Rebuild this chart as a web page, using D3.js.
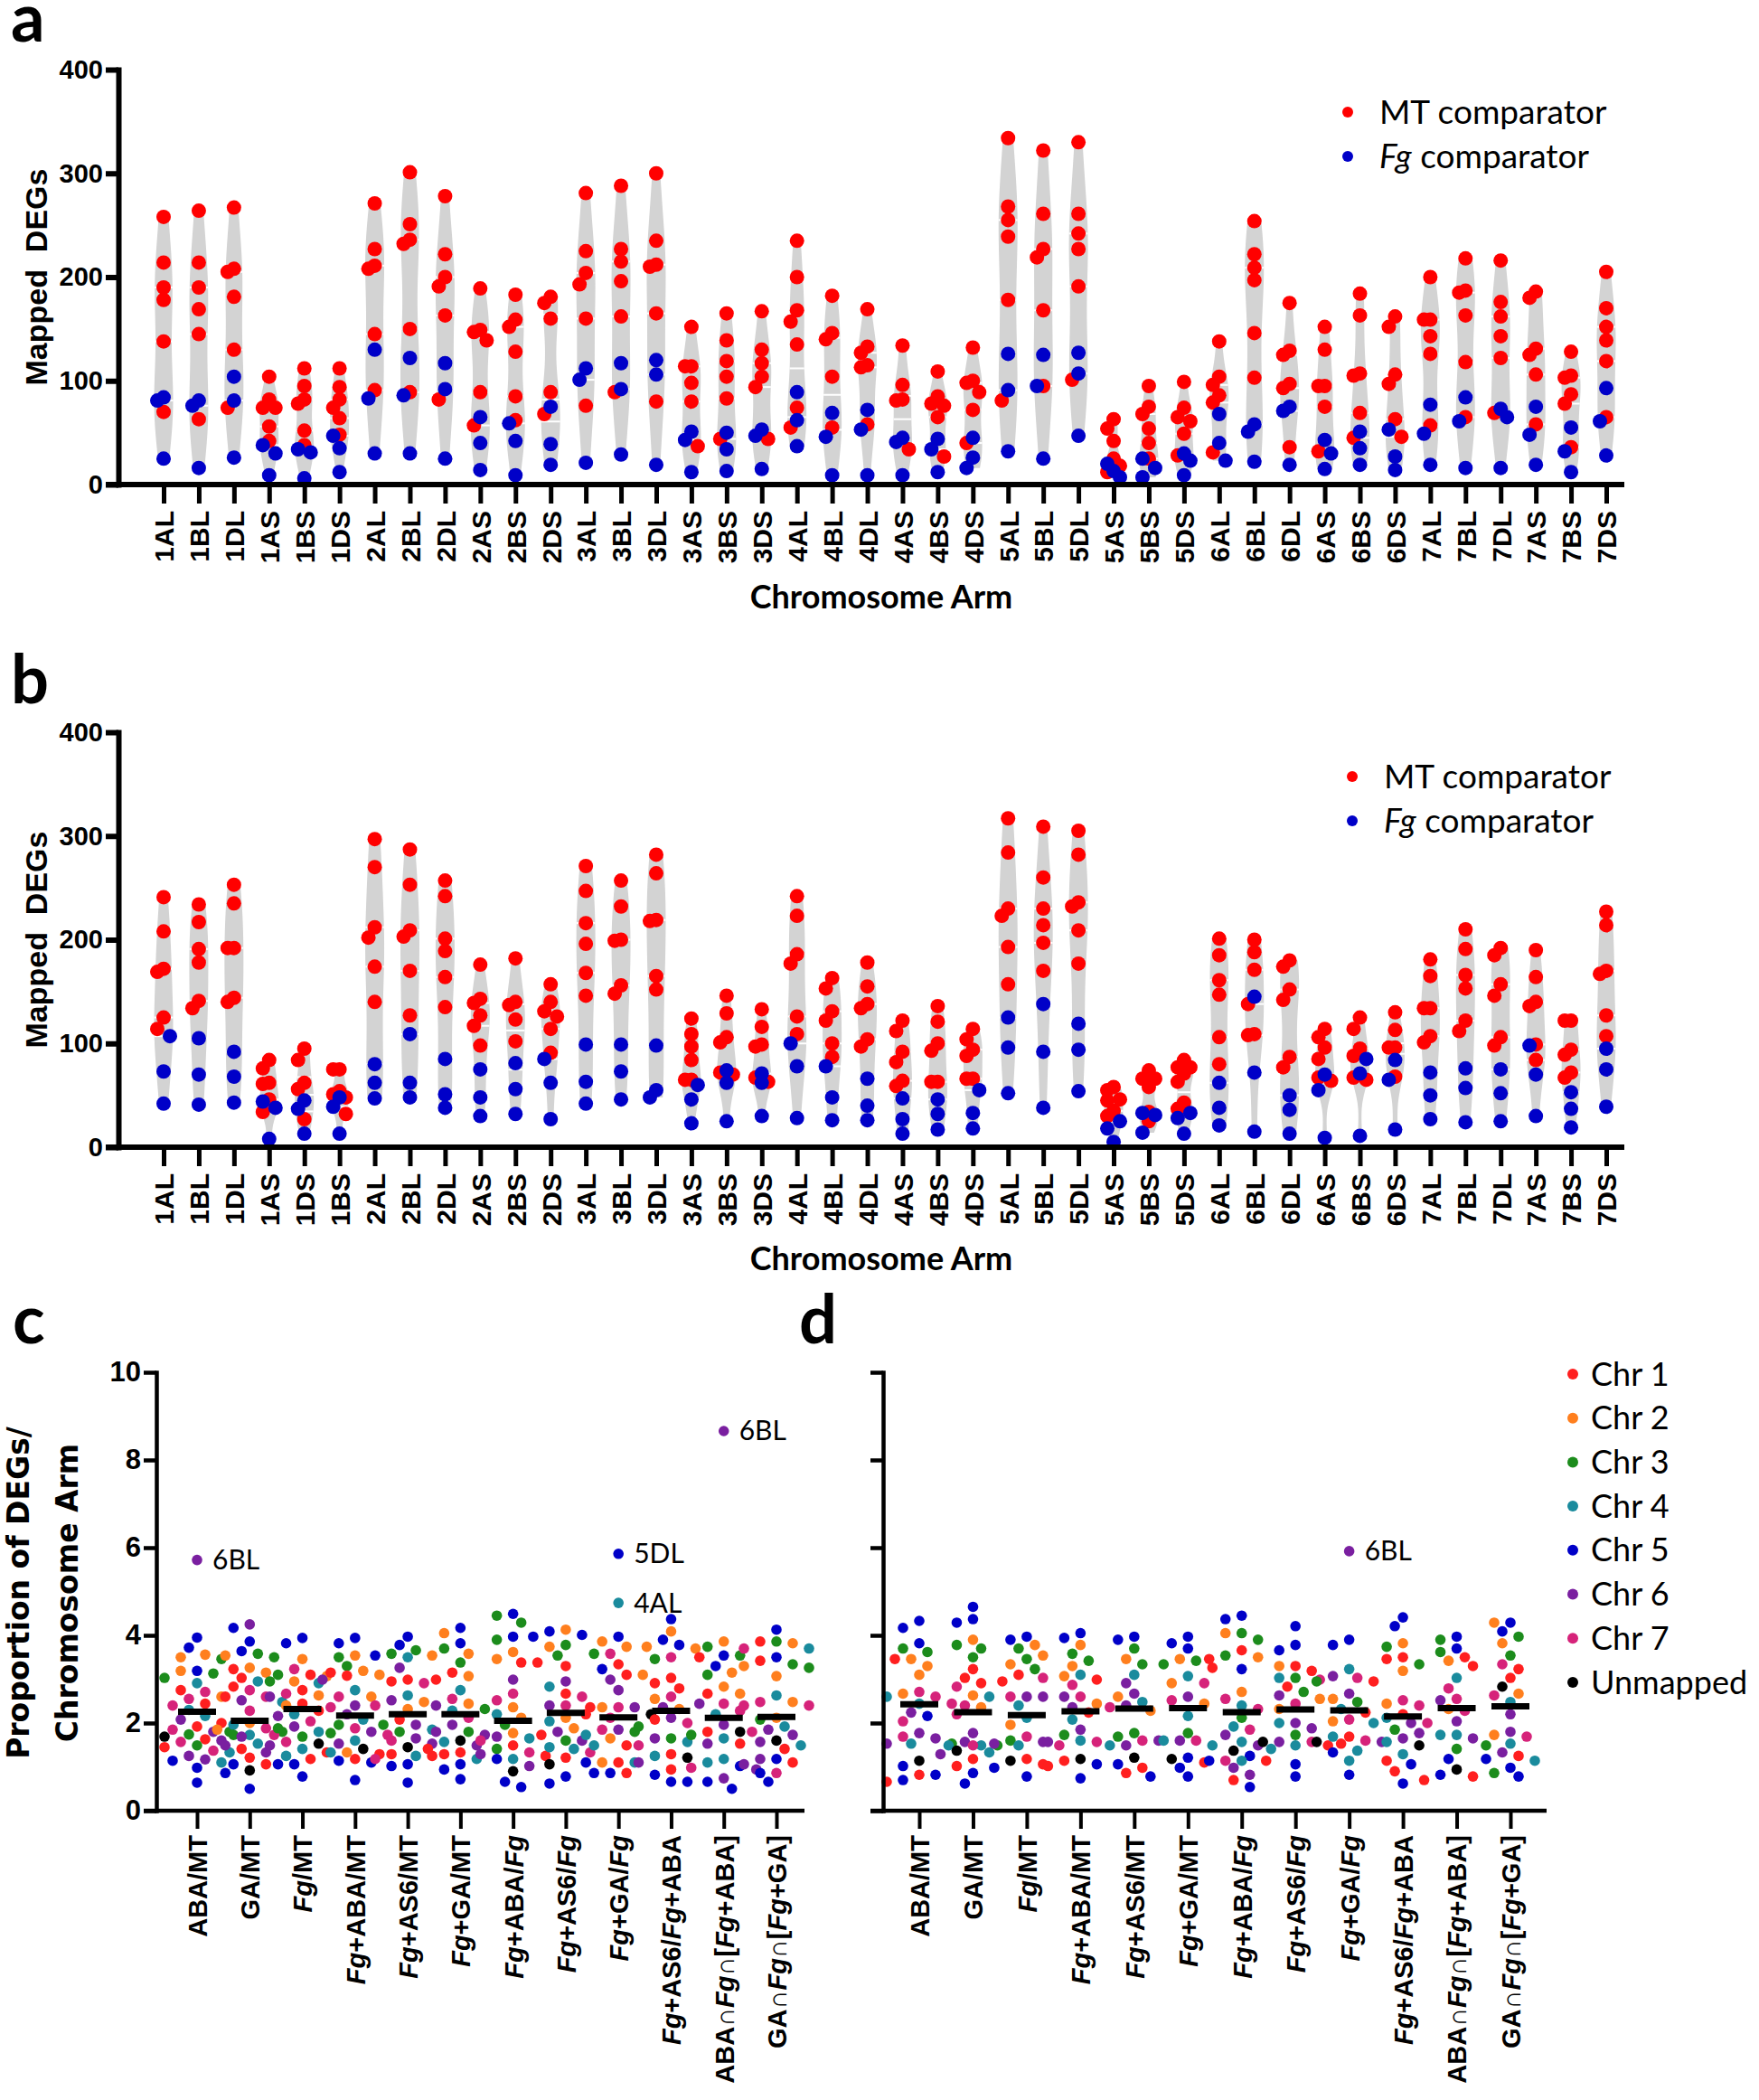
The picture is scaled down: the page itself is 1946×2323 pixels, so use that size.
<!DOCTYPE html>
<html><head><meta charset="utf-8">
<script src="https://cdn.jsdelivr.net/npm/d3@7/dist/d3.min.js"></script>
<style>html,body{margin:0;padding:0;background:#fff}svg{display:block}</style>
</head><body>
<svg id="fig" width="1946" height="2323" xmlns="http://www.w3.org/2000/svg"></svg>
<script>
// ---------------- DATA ----------------
const armsA = ["1AL","1BL","1DL","1AS","1BS","1DS","2AL","2BL","2DL","2AS","2BS","2DS","3AL","3BL","3DL","3AS","3BS","3DS","4AL","4BL","4DL","4AS","4BS","4DS","5AL","5BL","5DL","5AS","5BS","5DS","6AL","6BL","6DL","6AS","6BS","6DS","7AL","7BL","7DL","7AS","7BS","7DS"];
const armsB = ["1AL","1BL","1DL","1AS","1DS","1BS","2AL","2BL","2DL","2AS","2BS","2DS","3AL","3BL","3DL","3AS","3BS","3DS","4AL","4BL","4DL","4AS","4BS","4DS","5AL","5BL","5DL","5AS","5BS","5DS","6AL","6BL","6DL","6AS","6BS","6DS","7AL","7BL","7DL","7AS","7BS","7DS"];
const degTicks = [0,100,200,300,400];

// panel a: mapped DEGs, MT comparator (red) and Fg comparator (blue)
const mtA = [[258,214,190,178,138,70],[264,214,190,169,145,63],[267,208,205,181,130,74],[104,82,74,74,56,42],[112,95,82,78,52,38],[112,94,82,74,64,48],
[271,227,211,208,145,91],[301,251,236,232,150,89],[278,222,200,191,163,82],[189,149,147,139,89,57],[183,159,152,128,85,62],[181,175,160,89,68],
[281,225,204,193,160,76],[288,227,215,196,162,89],[300,235,212,210,165,80],[152,114,114,98,80,37],[165,139,119,104,83,44],[167,130,117,104,94,44],
[235,200,168,157,135,74,55],[182,146,140,104,55],[169,133,127,115,113,58],[134,96,82,81,34],[109,85,78,76,65,27],[132,100,98,89,72,40],
[334,268,255,239,178,81],[322,261,227,219,168,95],[330,261,242,227,191,101],[63,54,42,25,18,12],[95,75,68,54,40,25],[99,74,65,61,49,28],
[138,104,96,86,79,31],[254,222,209,197,146,103],[175,129,125,97,93,36],[152,130,95,95,75,32],[184,163,107,105,69,45],[162,152,106,97,63,46],
[200,159,159,143,126,57],[218,187,185,163,118,65],[216,176,162,143,122,69],[186,180,131,125,106,58],[128,105,103,87,78,36],[205,170,152,139,119,65]];
const fgA = [[84,81,25],[81,76,16],[104,81,26],[38,30,9],[34,31,6],[47,35,12],[130,83,30],[122,86,30],[117,92,25],[65,40,14],[59,42,9],[75,39,19],
[112,101,21],[117,92,29],[120,106,19],[51,43,12],[50,34,13],[53,47,15],[89,62,37],[69,46,9],[72,53,9],[45,41,9],[44,34,12],[45,26,16],
[126,91,32],[125,95,25],[127,107,47],[20,13,7],[25,16,7],[30,23,9],[68,40,23],[58,51,22],[75,71,19],[43,30,15],[51,35,19],[53,27,14],
[77,49,19],[84,61,16],[73,65,16],[75,48,19],[55,32,12],[93,61,28]];

// panel b
const mtB = [[241,208,172,169,125,114],[234,217,191,178,141,134],[253,235,192,192,144,140],[84,76,62,61,46,34],[95,84,62,56,27],[75,75,54,51,48,32],
[297,270,212,202,174,140],[287,253,209,203,170,127],[257,242,201,189,164,135],[176,143,139,127,117,98],[182,140,137,123,102],[157,140,131,126,114,91],
[271,247,216,196,168,146],[257,232,200,199,156,148],[282,264,219,218,165,152],[124,109,97,84,65,65],[146,129,106,101,72,70],[133,116,99,97,67,63],
[242,223,186,177,126,109],[163,153,131,122,100,87],[178,155,138,134,104,97],[122,112,92,82,64,59],[136,121,100,93,63,63],[114,104,94,88,66,66],
[317,284,230,223,193,157],[309,260,230,214,197,170],[305,282,236,232,209,177],[58,55,46,45,35,30],[74,66,66,58,34,25],[84,77,77,71,63,43,37],
[201,185,161,147,106,80],[200,188,171,138,109,108],[180,174,152,142,87,77],[114,106,96,85,67,64],[125,114,95,88,67,65],[130,113,96,96,68],
[181,165,134,134,107,101],[210,191,166,153,122,112],[192,185,157,146,106,98],[190,164,140,136,99,84],[122,122,94,89,72,67],[227,214,170,167,127,107]];
const fgB = [[107,73,42],[105,70,41],[92,68,43],[44,38,8],[45,37,13],[48,39,13],[80,62,47],[109,62,48],[85,51,38],[75,48,30],[81,56,32],[85,62,27],
[99,63,42],[99,73,46],[98,55,48],[60,46,23],[74,62,25],[71,62,30],[100,78,28],[78,48,26],[66,40,26],[47,27,13],[46,32,17],[55,33,18],
[125,96,52],[138,92,38],[119,94,54],[25,18,5],[33,31,14],[33,28,13],[62,38,21],[145,72,15],[50,36,13],[70,55,9],[85,71,11],[84,65,17],
[72,50,27],[76,57,24],[75,52,25],[98,70,30],[53,37,19],[95,75,39]];

const seriesNames = ["MT comparator", "Fg comparator"];

// panels c, d: proportion of DEGs per chromosome arm  [value, chromosome (0 = unmapped)]
const comps = ["ABA/MT","GA/MT","Fg/MT","Fg+ABA/MT","Fg+AS6/MT","Fg+GA/MT","Fg+ABA/Fg","Fg+AS6/Fg","Fg+GA/Fg","Fg+AS6/Fg+ABA","ABA\u2229Fg\u2229[Fg+ABA]","GA\u2229Fg\u2229[Fg+GA]"];
const propTicks = [0,2,4,6,8,10];
const chrNames = ["Chr 1","Chr 2","Chr 3","Chr 4","Chr 5","Chr 6","Chr 7","Unmapped"];

const propC = [
[[3.95,5],[3.72,5],[3.56,2],[3.5,2],[3.46,3],[3.19,5],[3.13,3],[3.19,2],[3.03,3],[2.91,4],[2.75,1],[2.71,7],[2.55,7],[2.6,2],[2.44,1],[2.4,7],[2.3,4],[2.16,4],[2.08,6],[2.0,1],[1.92,1],[1.85,7],[1.8,6],[1.8,3],[1.74,3],[1.69,0],[1.63,1],[1.6,6],[1.57,7],[1.49,3],[1.45,1],[1.37,7],[1.33,4],[1.25,6],[1.17,6],[1.14,5],[1.1,4],[0.98,5],[0.64,5],[5.72,6]],
[[4.25,6],[4.17,5],[3.86,5],[3.64,5],[3.58,3],[3.54,2],[3.5,3],[3.26,2],[3.23,1],[3.15,2],[3.03,1],[2.95,4],[2.83,1],[2.75,7],[2.6,7],[2.6,1],[2.52,6],[2.48,4],[2.28,7],[2.0,2],[1.96,4],[1.88,7],[1.85,2],[1.8,3],[1.73,4],[1.73,3],[1.73,7],[1.69,6],[1.53,4],[1.49,6],[1.41,1],[1.33,6],[1.21,1],[1.06,5],[1.06,1],[0.92,0],[0.86,5],[0.5,5]],
[[3.94,5],[3.82,5],[3.46,2],[3.23,7],[3.1,1],[3.07,2],[3.1,3],[2.95,2],[2.95,3],[2.91,4],[2.75,1],[2.67,7],[2.6,6],[2.63,2],[2.44,1],[2.4,2],[2.28,1],[2.2,4],[2.16,6],[2.04,7],[1.92,6],[1.88,3],[1.8,4],[1.69,3],[1.57,7],[1.53,0],[1.49,6],[1.41,4],[1.33,1],[1.25,4],[1.18,1],[1.06,5],[1.06,5],[0.78,5]],
[[3.94,5],[3.82,5],[3.54,2],[3.5,3],[3.3,3],[3.19,2],[3.15,1],[3.1,2],[3.08,1],[2.99,6],[2.75,4],[2.6,7],[2.6,2],[2.4,6],[2.36,7],[2.2,6],[2.08,4],[1.96,3],[1.88,7],[1.8,6],[1.77,3],[1.73,7],[1.6,4],[1.53,6],[1.41,0],[1.33,2],[1.33,4],[1.29,1],[1.18,1],[1.14,5],[1.1,5],[0.7,5]],
[[3.97,5],[3.78,5],[3.66,3],[3.58,3],[3.54,2],[3.54,5],[3.5,4],[3.26,6],[2.99,1],[2.95,1],[2.91,7],[2.63,4],[2.52,6],[2.48,2],[2.4,7],[2.32,2],[2.08,1],[1.96,6],[1.96,3],[1.85,4],[1.8,3],[1.65,6],[1.6,7],[1.53,6],[1.45,0],[1.29,1],[1.25,4],[1.25,1],[1.18,7],[1.06,5],[1.02,5],[0.64,5]],
[[4.17,5],[4.05,2],[3.82,5],[3.7,3],[3.58,2],[3.38,3],[3.15,1],[3.07,2],[2.99,1],[2.75,4],[2.55,7],[2.44,2],[2.4,6],[2.32,3],[2.28,4],[2.12,7],[1.96,6],[1.8,3],[1.8,6],[1.73,6],[1.6,0],[1.57,4],[1.49,6],[1.41,1],[1.33,1],[1.29,1],[1.18,4],[1.06,5],[0.94,5],[0.72,5]],
[[4.49,5],[4.45,3],[4.29,3],[3.97,5],[3.9,3],[3.62,2],[3.46,2],[3.38,1],[3.38,1],[2.99,6],[2.67,7],[2.52,7],[2.36,2],[2.2,4],[2.12,2],[1.96,3],[1.77,2],[1.69,6],[1.65,4],[1.6,7],[1.49,1],[1.41,3],[1.33,7],[1.29,6],[1.25,1],[1.18,4],[1.18,5],[1.02,6],[0.9,0],[0.66,5],[0.54,5]],
[[4.13,2],[4.09,5],[4.01,5],[3.97,5],[3.78,3],[3.74,2],[3.54,3],[3.3,1],[2.95,6],[2.83,4],[2.67,1],[2.6,7],[2.4,7],[2.4,6],[2.36,1],[2.12,2],[2.04,4],[1.88,2],[1.8,6],[1.73,1],[1.6,3],[1.6,6],[1.45,4],[1.41,4],[1.33,7],[1.21,1],[1.06,0],[0.78,5],[0.62,5]],
[[5.86,5],[4.74,4],[3.97,5],[3.86,2],[3.74,2],[3.58,7],[3.58,3],[3.34,1],[3.23,5],[3.1,1],[3.1,2],[2.99,6],[2.75,6],[2.36,7],[2.36,2],[2.36,6],[2.2,1],[2.2,0],[2.12,7],[1.85,6],[1.85,7],[1.8,3],[1.73,4],[1.65,2],[1.49,1],[1.49,4],[1.1,1],[1.1,2],[1.1,4],[1.1,5],[0.86,5],[0.86,1],[0.86,5]],
[[4.37,5],[4.09,2],[3.9,5],[3.78,5],[3.74,2],[3.7,2],[3.5,7],[3.46,3],[3.03,1],[2.91,1],[2.79,1],[2.6,7],[2.55,2],[2.36,6],[2.32,2],[2.12,6],[2.08,1],[2.0,7],[1.92,3],[1.65,3],[1.65,6],[1.57,4],[1.49,7],[1.29,1],[1.25,4],[1.21,0],[1.1,6],[0.94,1],[0.82,5],[0.66,5],[0.66,5]],
[[8.66,6],[3.86,2],[3.74,3],[3.54,5],[3.54,3],[3.5,1],[3.3,5],[3.15,2],[3.1,3],[2.83,2],[2.67,1],[2.67,2],[2.44,7],[2.44,6],[2.28,7],[2.2,4],[1.96,6],[1.8,1],[1.8,0],[1.73,3],[1.65,4],[1.53,6],[1.53,1],[1.18,4],[1.1,4],[1.02,5],[0.98,7],[0.94,6],[0.74,6],[0.66,5],[0.5,5]],
[[4.13,5],[3.86,3],[3.86,1],[3.82,2],[3.7,7],[3.7,4],[3.5,5],[3.42,1],[3.34,3],[3.3,2],[3.26,3],[3.07,2],[2.63,4],[2.48,7],[2.48,2],[2.4,7],[2.4,7],[2.12,2],[2.08,3],[1.92,4],[1.85,6],[1.8,7],[1.73,6],[1.6,0],[1.57,6],[1.49,4],[1.41,1],[1.18,5],[1.18,6],[1.1,1],[1.06,6],[0.86,7],[0.86,5],[0.66,5]]
];
const medC = [2.26,2.05,2.32,2.17,2.2,2.2,2.05,2.23,2.13,2.28,2.12,2.14];

const propD = [
[[4.33,5],[4.17,5],[3.82,5],[3.7,3],[3.62,3],[3.46,2],[3.46,1],[3.3,2],[3.1,2],[2.71,7],[2.67,2],[2.6,7],[2.6,4],[2.44,4],[2.44,7],[2.24,6],[2.16,5],[2.04,7],[1.77,6],[1.69,7],[1.65,6],[1.53,6],[1.53,3],[1.53,4],[1.14,0],[1.02,5],[0.82,1],[0.82,5],[0.7,5],[0.66,1]],
[[4.65,5],[4.37,5],[4.29,5],[3.9,2],[3.78,3],[3.7,3],[3.5,3],[3.23,1],[3.03,1],[2.91,1],[2.83,7],[2.63,2],[2.6,4],[2.4,7],[2.36,2],[2.2,7],[1.77,6],[1.57,6],[1.49,4],[1.49,4],[1.49,3],[1.49,7],[1.37,0],[1.33,4],[1.29,6],[1.18,1],[1.02,1],[0.86,5],[0.62,5]],
[[3.97,5],[3.9,5],[3.78,2],[3.7,3],[3.54,2],[3.46,3],[3.34,2],[3.23,3],[3.1,1],[3.03,7],[2.95,1],[2.6,6],[2.6,7],[2.6,6],[2.4,4],[2.12,4],[1.96,2],[1.69,7],[1.6,3],[1.57,6],[1.53,6],[1.49,7],[1.49,4],[1.18,1],[1.14,0],[1.06,1],[0.98,5],[0.78,5]],
[[4.05,5],[3.94,5],[3.78,2],[3.58,3],[3.42,3],[3.3,2],[3.1,4],[3.07,2],[2.99,1],[2.87,7],[2.6,7],[2.6,6],[2.44,2],[2.36,6],[2.24,1],[2.08,4],[1.85,6],[1.73,3],[1.6,4],[1.57,7],[1.57,6],[1.18,0],[1.14,1],[1.06,5],[1.02,1],[0.74,5]],
[[3.97,5],[3.9,5],[3.7,3],[3.46,2],[3.34,3],[3.1,4],[2.91,6],[2.67,6],[2.6,2],[2.48,4],[2.4,6],[2.36,7],[2.28,2],[1.77,3],[1.69,3],[1.6,7],[1.6,6],[1.49,6],[1.49,4],[1.21,0],[1.06,5],[0.98,1],[0.86,1],[0.78,5]],
[[3.97,5],[3.82,5],[3.7,5],[3.46,2],[3.42,3],[3.34,3],[3.26,1],[3.07,4],[2.91,2],[2.91,7],[2.6,6],[2.52,7],[2.44,2],[2.16,4],[1.77,3],[1.6,6],[1.6,7],[1.6,4],[1.49,4],[1.21,5],[1.18,0],[1.1,1],[0.98,5],[0.78,5]],
[[4.45,5],[4.37,5],[4.05,3],[4.05,2],[3.9,3],[3.66,1],[3.54,3],[3.5,2],[3.46,1],[3.23,5],[2.71,2],[2.55,7],[2.4,4],[2.32,7],[2.12,3],[1.92,4],[1.85,7],[1.73,6],[1.57,4],[1.49,6],[1.37,0],[1.25,5],[1.14,7],[1.14,1],[1.14,5],[1.14,4],[0.98,6],[0.82,6],[0.7,1],[0.54,5]],
[[4.21,5],[3.78,5],[3.66,5],[3.3,1],[3.3,2],[3.19,1],[3.03,3],[3.03,4],[2.99,7],[2.83,1],[2.71,3],[2.63,6],[2.55,2],[2.44,7],[2.32,2],[2.0,6],[2.0,4],[1.88,6],[1.73,3],[1.57,6],[1.57,7],[1.57,0],[1.49,1],[1.49,4],[1.41,4],[1.06,5],[0.78,5]],
[[5.92,6],[3.9,5],[3.78,5],[3.23,4],[3.07,6],[3.03,7],[2.95,1],[2.95,3],[2.67,6],[2.55,2],[2.48,3],[2.32,4],[2.24,1],[2.08,7],[2.04,2],[2.0,4],[1.69,1],[1.69,4],[1.6,7],[1.57,0],[1.57,6],[1.53,1],[1.37,4],[1.33,5],[1.14,4],[0.82,5]],
[[4.41,5],[4.21,5],[3.82,2],[3.74,3],[3.5,1],[3.46,1],[3.34,3],[3.19,2],[2.52,7],[2.44,2],[2.4,7],[2.2,1],[2.12,4],[2.0,6],[2.0,7],[1.85,3],[1.77,6],[1.65,6],[1.57,4],[1.49,0],[1.29,4],[1.14,1],[1.06,5],[0.9,1],[0.62,5]],
[[3.97,5],[3.9,3],[3.7,5],[3.62,3],[3.5,1],[3.42,2],[3.3,1],[3.03,4],[2.79,7],[2.55,7],[2.52,6],[2.32,2],[2.28,7],[2.04,6],[1.73,4],[1.73,4],[1.65,6],[1.41,3],[1.18,5],[0.94,0],[0.82,5],[0.78,1],[0.7,1]],
[[4.29,5],[4.29,2],[4.09,5],[3.97,3],[3.82,2],[3.54,3],[3.34,7],[3.23,1],[3.03,1],[2.83,0],[2.67,2],[2.63,7],[2.48,4],[2.2,6],[1.8,6],[1.73,2],[1.69,7],[1.53,4],[1.49,3],[1.33,6],[1.25,1],[1.18,5],[1.14,4],[0.98,5],[0.86,3],[0.78,5]]
];
const medD = [2.43,2.25,2.18,2.27,2.33,2.34,2.25,2.31,2.29,2.15,2.34,2.38];

// labelled outliers: [comparison index, value, arm]
const annotC = [[0,5.72,"6BL"],[10,8.66,"6BL"],[8,5.86,"5DL"],[8,4.74,"4AL"]];
const annotD = [[8,5.92,"6BL"]];

// ---------------- STYLE ----------------
const RED = "#ff0000", BLUE = "#0000c8", VIOLIN = "#d3d3d3";
const chrColors = ["#000000","#ff1f1f","#ff7f1e","#1c8c1c","#1a8b9d","#0000c8","#7a1fa0","#d6237a"]; // index by chromosome (0 = unmapped)
const F_NUM = "'Liberation Sans', Arial, sans-serif";
const F_VER = "'DejaVu Sans', Verdana, sans-serif";
const F_CAL = "Lato, 'Open Sans', sans-serif";

const svg = d3.select('#fig');
svg.append('rect').attr('width',1946).attr('height',2323).attr('fill','#fff');

function rich(sel, str) {
  str.split(/(Fg)/).forEach(p => { if (p) sel.append('tspan').attr('font-style', p === 'Fg' ? 'italic' : 'normal').text(p); });
}

function beeswarm(ys, cands, minDist) {
  const order = ys.map((d,i)=>i).sort((a,b)=> ys[a]-ys[b]);
  const placed = [];
  const dx = new Array(ys.length).fill(0);
  order.forEach(i => {
    const yy = ys[i];
    let best = cands[0], bestD = -1;
    for (const c of cands) {
      let m = Infinity;
      for (const p of placed) { if (Math.abs(p.y-yy) < minDist) m = Math.min(m, Math.hypot(p.x-c, p.y-yy)); }
      if (m >= minDist) { best = c; bestD = m; break; }
      if (m > bestD) { bestD = m; best = c; }
    }
    dx[i] = best; placed.push({x:best, y:yy});
  });
  return dx;
}

function panelLetter(t, x, y) {
  svg.append('text').attr('x',x).attr('y',y).text(t)
    .attr('font-family', F_CAL).attr('font-weight','bold').attr('font-size',74).attr('fill','#000');
}

// ---------- violin panels (a, b) ----------
function violinPanel(o) {
  const g = svg.append('g');
  const x = d3.scalePoint().domain(o.arms).range([181, 1777]);
  const y = d3.scaleLinear().domain([0, 400]).range(o.yRange);
  const axisX = 131;

  o.arms.forEach((arm, i) => {
    const vals = o.mt[i].concat(o.fg[i]).sort(d3.ascending);
    const [lo, hi] = d3.extent(vals);
    const bw = Math.max(10, 0.8 * d3.deviation(vals) * Math.pow(vals.length, -0.2));
    const kde = t => d3.sum(vals, v => Math.exp(-0.5 * ((t - v) / bw) ** 2));
    const grid = d3.range(0, 61).map(k => lo + (hi - lo) * k / 60);
    const dens = grid.map(kde);
    const w = d3.scaleLinear().domain([0, d3.max(dens)]).range([0, 10.5]);
    const hw = d => Math.max(1.5, w(d));
    const area = d3.area().curve(d3.curveBasis)
      .y((d, k) => y(grid[k])).x0(d => x(arm) - hw(d)).x1(d => x(arm) + hw(d));
    g.append('path').datum(dens).attr('d', area).attr('fill', VIOLIN);
    [0.25, 0.5, 0.75].forEach(q => {
      const qv = d3.quantile(vals, q), h = hw(kde(qv));
      g.append('line').attr('x1', x(arm) - h).attr('x2', x(arm) + h)
        .attr('y1', y(qv)).attr('y2', y(qv)).attr('stroke', '#fff').attr('stroke-width', 2);
    });
  });

  o.arms.forEach((arm, i) => {
    const items = o.mt[i].map(v => ({v, c: RED})).concat(o.fg[i].map(v => ({v, c: BLUE})));
    const dx = beeswarm(items.map(d => y(d.v)), [0, -7, 7], 13);
    items.forEach((d, k) => d.dx = dx[k]);
    [RED, BLUE].forEach(col => {
      g.selectAll(null).data(items.filter(d => d.c === col)).enter().append('circle')
        .attr('cx', d => x(arm) + d.dx).attr('cy', d => y(d.v)).attr('r', 8).attr('fill', col);
    });
  });

  // y axis
  const ya = g.append('g').attr('transform', `translate(${axisX},0)`)
    .call(d3.axisLeft(y).tickValues(degTicks).tickSize(14).tickPadding(3).tickSizeOuter(0));
  ya.select('.domain').attr('stroke-width', 6).attr('stroke-linecap', 'square');
  ya.selectAll('.tick line').attr('stroke-width', 6);
  ya.selectAll('.tick text').attr('font-family', F_NUM).attr('font-weight', 'bold').attr('font-size', 29).attr('fill', '#000');

  // x axis
  g.append('line').attr('x1', axisX - 14).attr('x2', 1797).attr('y1', y(0)).attr('y2', y(0))
    .attr('stroke', '#000').attr('stroke-width', 6);
  const xa = g.append('g').attr('transform', `translate(0,${y(0)})`)
    .call(d3.axisBottom(x).tickSize(21).tickPadding(8));
  xa.select('.domain').remove();
  xa.selectAll('.tick line').attr('stroke-width', 5);
  xa.selectAll('.tick text').attr('transform', 'rotate(-90)').attr('x', -29).attr('y', 0).attr('dy', '0.36em')
    .attr('text-anchor', 'end').attr('font-family', F_NUM).attr('font-weight', 'bold').attr('font-size', 30).attr('fill', '#000');

  g.append('text').attr('x', 975).attr('y', o.titleY).attr('text-anchor', 'middle').attr('dy', '0.35em')
    .attr('font-family', F_CAL).attr('font-weight', 'bold').attr('font-size', 36).text('Chromosome Arm');
  g.append('text').attr('transform', `translate(52,${(o.yRange[0] + o.yRange[1]) / 2}) rotate(-90)`)
    .attr('text-anchor', 'middle').style('white-space', 'pre')
    .attr('font-family', F_NUM).attr('font-weight', 'bold').attr('font-size', 34).text('Mapped  DEGs');

  // legend
  seriesNames.forEach((nm, k) => {
    const ly = o.legY + k * 49;
    g.append('circle').attr('cx', o.legX).attr('cy', ly).attr('r', 6).attr('fill', k ? BLUE : RED);
    const t = g.append('text').attr('x', o.legX + 35).attr('y', ly).attr('dy', '0.35em')
      .attr('font-family', F_CAL).attr('font-size', 37);
    rich(t, nm);
  });
  panelLetter(o.letter, 12, o.letterY);
}

violinPanel({arms: armsA, mt: mtA, fg: fgA, yRange: [536, 77], titleY: 660, legX: 1491, legY: 124, letter: 'a', letterY: 46});
violinPanel({arms: armsB, mt: mtB, fg: fgB, yRange: [1269, 810], titleY: 1392, legX: 1496, legY: 859, letter: 'b', letterY: 778});

// ---------- proportion panels (c, d) ----------
function propPanel(o) {
  const g = svg.append('g');
  const x = d3.scalePoint().domain(comps).range(o.xRange);
  const y = d3.scaleLinear().domain([0, 10]).range([2003, 1518]);

  o.data.forEach((arr, i) => {
    const dx = beeswarm(arr.map(d => y(d[0])), [0, -9, 9, -18, 18, -27, 27, -36, 36], 12);
    g.selectAll(null).data(arr).enter().append('circle')
      .attr('cx', (d, k) => x(comps[i]) + dx[k]).attr('cy', d => y(d[0])).attr('r', 5.8)
      .attr('fill', d => chrColors[d[1]]);
  });
  o.med.forEach((m, i) => {
    g.append('line').attr('x1', x(comps[i]) - 21).attr('x2', x(comps[i]) + 21)
      .attr('y1', y(m)).attr('y2', y(m)).attr('stroke', '#000').attr('stroke-width', 7);
  });
  o.annot.forEach(a => {
    g.append('text').attr('x', x(comps[a[0]]) + 17).attr('y', y(a[1])).attr('dy', '0.35em')
      .attr('font-family', F_CAL).attr('font-size', 30).text(a[2]);
  });

  const ya = g.append('g').attr('transform', `translate(${o.axisX},0)`)
    .call(d3.axisLeft(y).tickValues(propTicks).tickSize(14).tickPadding(3).tickSizeOuter(0)
      .tickFormat(o.showY ? d3.format('d') : ''));
  ya.select('.domain').attr('stroke-width', 4.5).attr('stroke-linecap', 'square');
  ya.selectAll('.tick line').attr('stroke-width', 4.5);
  ya.selectAll('.tick text').attr('font-family', F_NUM).attr('font-weight', 'bold').attr('font-size', 31).attr('fill', '#000');

  g.append('line').attr('x1', o.axisX - 14).attr('x2', o.xEnd).attr('y1', y(0)).attr('y2', y(0))
    .attr('stroke', '#000').attr('stroke-width', 4.5);
  const xa = g.append('g').attr('transform', `translate(0,${y(0)})`)
    .call(d3.axisBottom(x).tickSize(20).tickPadding(8).tickFormat(''));
  xa.select('.domain').remove();
  xa.selectAll('.tick line').attr('stroke-width', 4);
  xa.selectAll('.tick').append('text').attr('transform', 'rotate(-90)').attr('x', -27).attr('y', 0).attr('dy', '0.36em')
    .attr('text-anchor', 'end').attr('font-family', F_NUM).attr('font-weight', 'bold').attr('font-size', 29).attr('fill', '#000')
    .each(function(d) { rich(d3.select(this), d); });
  panelLetter(o.letter, o.letterX, 1486);
}

propPanel({data: propC, med: medC, annot: annotC, xRange: [218, 859], axisX: 173, xEnd: 890, showY: true, letter: 'c', letterX: 14});
propPanel({data: propD, med: medD, annot: annotD, xRange: [1017, 1671], axisX: 977, xEnd: 1711, showY: false, letter: 'd', letterX: 884});

// y label panel c
const yl = svg.append('text').attr('transform', 'translate(0,1762) rotate(-90)').attr('text-anchor', 'middle')
  .attr('font-family', F_VER).attr('font-weight', 'bold').attr('font-size', 33);
yl.append('tspan').attr('x', 0).attr('y', 32).text('Proportion of DEGs/');
yl.append('tspan').attr('x', 0).attr('y', 86).text('Chromosome Arm');

// chromosome legend
const chrLegend = chrNames.map((n, k) => ({n, col: chrColors[k < 7 ? k + 1 : 0]}));
chrLegend.forEach((d, k) => {
  const ly = 1520 + k * 48.7;
  svg.append('circle').attr('cx', 1740).attr('cy', ly).attr('r', 6).attr('fill', d.col);
  svg.append('text').attr('x', 1760).attr('y', ly).attr('dy', '0.35em').attr('font-family', F_CAL)
    .attr('font-size', 36).text(d.n);
});
</script>
</body></html>
